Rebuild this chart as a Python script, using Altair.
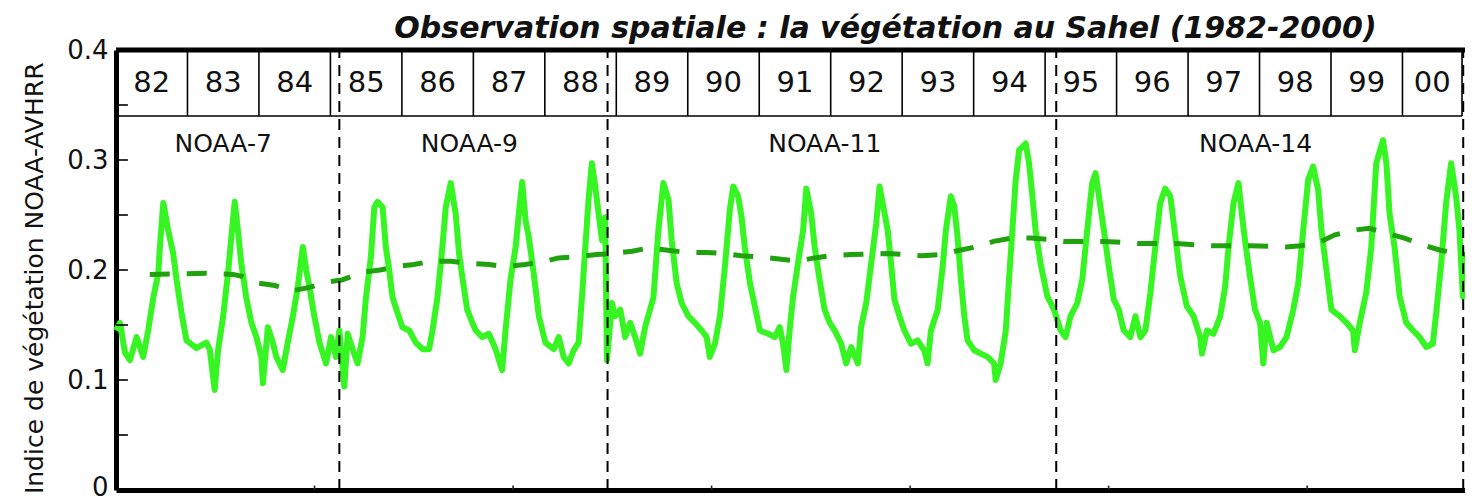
import altair as alt
import pandas as pd

# ---------------- data ----------------
# x in dekads (10-day periods) since January 1982
ndvi_dekad = [0.0, 2.0, 4.5, 7.0, 10.4, 13.7, 16.2, 18.8, 21.3, 22.1, 23.8, 26.3, 28.8, 30.5, 33.0, 35.5,
              40.5, 45.5, 47.2, 49.7, 51.4, 53.9, 56.4, 58.1, 59.8, 61.4, 63.1, 65.6, 68.2, 70.7, 73.2, 74.0,
              76.5, 79.0, 80.7, 84.0, 86.5, 89.1, 91.6, 94.1, 95.8, 97.4, 99.9, 102.5, 105.8, 108.3, 110.8,
              112.5, 115.0, 116.7, 119.2, 121.7, 124.2, 125.9, 128.4, 130.1, 131.7, 134.3, 135.9, 137.6,
              139.3, 141.8, 144.3, 147.7, 151.0, 154.4, 157.7, 159.4, 161.9, 164.4, 166.1, 168.6, 171.1,
              172.8, 174.4, 176.9, 179.5, 181.2, 184.5, 187.8, 191.2, 194.5, 196.2, 198.7, 201.3, 202.9,
              204.6, 206.3, 207.9, 210.4, 213.0, 216.3, 220.5, 223.0, 225.5, 228.0, 230.5, 233.0, 234.7,
              236.4, 238.1, 239.7, 241.4, 243.1, 244.8, 246.4, 247.3, 249.8, 251.4, 254.0, 256.5, 259.0,
              261.5, 264.0, 266.5, 270.7, 273.2, 275.7, 278.3, 279.9, 282.4, 284.9, 288.3, 291.6, 295.0,
              297.5, 299.1, 301.7, 304.2, 306.7, 309.2, 310.9, 313.4, 315.1, 316.7, 319.3, 321.8, 324.3,
              328.5, 331.8, 334.3, 336.0, 337.7, 339.3, 341.0, 343.5, 346.1, 347.7, 350.2, 351.9, 354.4,
              356.9, 359.5, 362.0, 365.3, 367.8, 370.3, 373.7, 375.3, 377.9, 380.4, 382.9, 384.6, 387.1,
              388.7, 390.4, 392.1, 394.6, 397.1, 400.4, 403.8, 407.1, 408.8, 410.5, 413.9, 416.4, 418.0,
              420.5, 422.2, 423.9, 425.6, 427.3, 428.9, 432.3, 435.6, 439.0, 442.3, 443.1, 445.6, 448.2,
              449.8, 451.5, 453.2, 454.9, 458.2, 459.9, 461.6, 463.2, 465.7, 469.1, 472.5, 475.8, 478.3,
              480.8, 484.2, 486.7, 489.2, 491.7, 493.4, 495.1, 497.6, 500.1, 502.6, 505.1, 507.6, 510.9,
              513.5, 516.0, 518.5, 521.0, 523.5, 526.0, 528.5, 531.1, 533.6, 536.1, 539.4, 542.8, 546.1,
              547.0, 549.5, 552.8, 556.2, 558.7, 560.4, 562.9, 565.4, 567.0, 568.7, 571.2, 573.7, 576.3,
              577.9, 579.6, 583.0, 586.3, 589.6, 593.0, 595.5, 598.0, 600.5, 603.0, 605.5, 607.2, 609.7,
              612.2, 616.4, 619.8, 623.1, 624.0, 626.5, 629.8, 632.3, 634.8, 638.2, 639.9, 641.5, 644.0,
              646.6, 649.9, 653.3, 656.6, 660.0, 663.3, 665.0, 667.5, 670.0, 672.5, 675.0, 676.7, 678.4,
              680.1]
ndvi_value = [0.145, 0.152, 0.125, 0.118, 0.139, 0.121, 0.145, 0.175, 0.197, 0.221, 0.261, 0.236, 0.215,
              0.191, 0.161, 0.136, 0.129, 0.134, 0.128, 0.091, 0.127, 0.157, 0.197, 0.230, 0.262, 0.236,
              0.206, 0.175, 0.152, 0.139, 0.121, 0.097, 0.148, 0.134, 0.121, 0.109, 0.134, 0.158, 0.185,
              0.221, 0.200, 0.185, 0.158, 0.134, 0.115, 0.139, 0.121, 0.145, 0.094, 0.142, 0.128, 0.115,
              0.139, 0.175, 0.212, 0.257, 0.262, 0.257, 0.221, 0.200, 0.175, 0.161, 0.148, 0.145, 0.134,
              0.128, 0.128, 0.145, 0.175, 0.221, 0.257, 0.279, 0.251, 0.215, 0.194, 0.164, 0.152, 0.145,
              0.139, 0.142, 0.128, 0.109, 0.145, 0.191, 0.221, 0.251, 0.280, 0.245, 0.230, 0.197, 0.158,
              0.134, 0.128, 0.139, 0.121, 0.115, 0.127, 0.134, 0.175, 0.221, 0.266, 0.297, 0.276, 0.251,
              0.227, 0.248, 0.118, 0.170, 0.158, 0.164, 0.139, 0.152, 0.139, 0.124, 0.148, 0.175, 0.236,
              0.279, 0.264, 0.227, 0.188, 0.170, 0.158, 0.152, 0.145, 0.139, 0.121, 0.133, 0.158, 0.203,
              0.255, 0.276, 0.267, 0.248, 0.221, 0.188, 0.167, 0.145, 0.142, 0.139, 0.148, 0.133, 0.109,
              0.145, 0.175, 0.206, 0.236, 0.274, 0.251, 0.221, 0.191, 0.164, 0.152, 0.145, 0.133, 0.115,
              0.130, 0.115, 0.148, 0.170, 0.206, 0.242, 0.276, 0.252, 0.236, 0.206, 0.173, 0.158, 0.145,
              0.133, 0.136, 0.127, 0.115, 0.145, 0.164, 0.203, 0.236, 0.267, 0.258, 0.230, 0.191, 0.158,
              0.136, 0.127, 0.124, 0.121, 0.115, 0.100, 0.115, 0.145, 0.191, 0.236, 0.282, 0.309, 0.315,
              0.297, 0.267, 0.236, 0.206, 0.176, 0.164, 0.145, 0.139, 0.158, 0.170, 0.191, 0.236, 0.279,
              0.288, 0.267, 0.236, 0.203, 0.173, 0.164, 0.145, 0.139, 0.158, 0.139, 0.145, 0.179, 0.221,
              0.261, 0.274, 0.267, 0.230, 0.194, 0.167, 0.158, 0.139, 0.124, 0.145, 0.142, 0.158, 0.185,
              0.221, 0.261, 0.279, 0.252, 0.227, 0.194, 0.164, 0.152, 0.115, 0.152, 0.127, 0.130, 0.139,
              0.164, 0.188, 0.236, 0.282, 0.294, 0.273, 0.236, 0.200, 0.164, 0.158, 0.152, 0.145, 0.127,
              0.152, 0.180, 0.221, 0.297, 0.318, 0.297, 0.251, 0.221, 0.176, 0.152, 0.145, 0.139, 0.130,
              0.133, 0.161, 0.206, 0.261, 0.297, 0.267, 0.236, 0.176, 0.215]

trend_dekad = [17, 45, 59, 64, 72, 80, 88, 97, 106, 114, 124, 133, 141, 150, 159, 169, 178, 188, 196,
               206, 214, 223, 232, 242, 250, 260, 268, 278, 287, 297, 306, 315, 324, 334, 343, 352, 360,
               370, 389, 406, 415, 425, 433, 442, 451, 461, 469, 478, 498, 516, 534, 552, 571, 589, 597,
               607, 614, 623, 631, 641, 649, 658, 667, 680]
trend_value = [0.196, 0.197, 0.196, 0.194, 0.188, 0.186, 0.181, 0.184, 0.189, 0.191, 0.198, 0.200,
               0.203, 0.205, 0.208, 0.208, 0.206, 0.205, 0.203, 0.205, 0.207, 0.211, 0.212, 0.214,
               0.215, 0.217, 0.220, 0.218, 0.216, 0.216, 0.215, 0.213, 0.212, 0.210, 0.208, 0.211,
               0.213, 0.214, 0.215, 0.213, 0.214, 0.218, 0.221, 0.226, 0.229, 0.229, 0.228, 0.226,
               0.226, 0.224, 0.224, 0.222, 0.222, 0.221, 0.222, 0.226, 0.232, 0.236, 0.238, 0.233,
               0.229, 0.223, 0.218, 0.214]

year_labels = ["82", "83", "84", "85", "86", "87", "88", "89", "90", "91", "92", "93", "94", "95",
               "96", "97", "98", "99", "00"]
year_edges = [0, 36, 72, 108, 144, 180, 216, 252, 288, 324, 360, 396, 432, 468, 504, 540, 576, 612,
              648, 678]

satellites = ["NOAA-7", "NOAA-9", "NOAA-11", "NOAA-14"]
satellite_label_dekad = [54, 178, 357, 574]
switch_dekad = [112.5, 247.6, 473.6, 678.6]

y_axis_values = [0, 0.1, 0.2, 0.3, 0.4]
y_minor_ticks = [0.05, 0.1, 0.15, 0.2, 0.25, 0.3, 0.35]
x_ticks = [100, 200, 300, 400, 500, 600]

box_bottom = 0.34
box_top = 0.4
x_max = 679.5

# ---------------- tables ----------------
ndvi_df = pd.DataFrame({"dekad": ndvi_dekad, "ndvi": ndvi_value})
trend_df = pd.DataFrame({"dekad": trend_dekad, "ndvi": trend_value})
year_df = pd.DataFrame({
    "label": year_labels,
    "mid": [(a + b) / 2 for a, b in zip(year_edges[:-1], year_edges[1:])],
    "y": [(box_bottom + box_top) / 2] * len(year_labels),
})
sep_df = pd.DataFrame({"x": year_edges[1:], "y": [box_bottom] * (len(year_edges) - 1),
                       "y2": [box_top] * (len(year_edges) - 1)})
hline_df = pd.DataFrame({"x": [0, 0], "x2": [year_edges[-1], x_max], "y": [box_bottom, box_top],
                         "w": [1.6, 5.0]})
sat_df = pd.DataFrame({"label": satellites, "x": satellite_label_dekad, "y": [0.315] * 4})
switch_df = pd.DataFrame({"x": switch_dekad, "y": [0] * 4, "y2": [box_top] * 4})
ytick_df = pd.DataFrame({"y": y_minor_ticks, "x": [0] * len(y_minor_ticks),
                         "x2": [6] * len(y_minor_ticks)})
xtick_df = pd.DataFrame({"x": x_ticks, "y": [0] * len(x_ticks), "y2": [0.004] * len(x_ticks)})

FONT = "DejaVu Sans"
xs = alt.Scale(domain=[0, x_max], nice=False, zero=False)
ys = alt.Scale(domain=[0, 0.4], nice=False, zero=True)

x_axis = alt.Axis(title=None, labels=False, ticks=False, grid=False, domainWidth=5,
                  domainColor="black")
y_axis = alt.Axis(values=y_axis_values, grid=False, ticks=False, domainWidth=5,
                  domainColor="black",
                  labelExpr="datum.value == 0 ? '0' : format(datum.value, '.1f')",
                  labelFont=FONT, labelFontSize=26, labelColor="#111", labelPadding=8,
                  labelBaseline="middle",
                  labelOffset={"condition": {"test": "datum.value == 0", "value": -3}, "value": 0},
                  title="Indice de végétation NOAA-AVHRR", titleFont=FONT,
                  titleFontSize=25, titleFontWeight="normal", titleColor="#111",
                  titleAngle=270, titleAlign="right", titleBaseline="alphabetic",
                  titleX=-74, titleY=12)


def X(field):
    return alt.X(field, scale=xs, axis=x_axis)


def Y(field):
    return alt.Y(field, scale=ys, axis=y_axis)


main = alt.Chart(ndvi_df).mark_line(color="#36f522", strokeWidth=6, strokeJoin="round").encode(
    x=X("dekad:Q"), y=Y("ndvi:Q"),
)

trend = alt.Chart(trend_df).mark_line(color="#1fa20e", strokeWidth=5, strokeDash=[20, 17]).encode(
    x=X("dekad:Q"), y=Y("ndvi:Q"),
)

hlines = alt.Chart(hline_df).mark_rule(color="black").encode(
    x=X("x:Q"), x2="x2:Q", y=Y("y:Q"),
    strokeWidth=alt.StrokeWidth("w:Q", scale=None),
)

seps = alt.Chart(sep_df).mark_rule(color="black", strokeWidth=1.6).encode(
    x=X("x:Q"), y=Y("y:Q"), y2="y2:Q",
)

switches = alt.Chart(switch_df).mark_rule(color="black", strokeWidth=2, strokeDash=[11, 7]).encode(
    x=X("x:Q"), y=Y("y:Q"), y2="y2:Q",
)

yticks = alt.Chart(ytick_df).mark_rule(color="black", strokeWidth=1.6).encode(
    x=X("x:Q"), x2="x2:Q", y=Y("y:Q"),
)

xticks = alt.Chart(xtick_df).mark_rule(color="#223", strokeWidth=1.6).encode(
    x=X("x:Q"), y=Y("y:Q"), y2="y2:Q",
)

years = alt.Chart(year_df).mark_text(font=FONT, fontSize=29, color="#111", align="center",
                                     baseline="middle").encode(
    x=X("mid:Q"), y=Y("y:Q"), text="label:N",
)

sats = alt.Chart(sat_df).mark_text(font=FONT, fontSize=25, color="#111", align="center",
                                   baseline="middle").encode(
    x=X("x:Q"), y=Y("y:Q"), text="label:N",
)

chart = alt.layer(main, trend, switches, hlines, seps, yticks, xticks, years, sats).properties(
    width=1349,
    height=440,
    title=alt.TitleParams(
        "Observation spatiale : la végétation au Sahel (1982-2000)",
        font=FONT, fontSize=30, fontWeight="bold", fontStyle="italic", color="#111",
        anchor="middle", frame="group", dx=95, offset=-7,
    ),
    autosize=alt.AutoSizeParams(type="none"),
    padding={"left": 108, "top": 42, "right": 0, "bottom": 10},
).configure_view(stroke=None)

chart.save("out.html", embed_options={"renderer": "svg", "actions": False})
